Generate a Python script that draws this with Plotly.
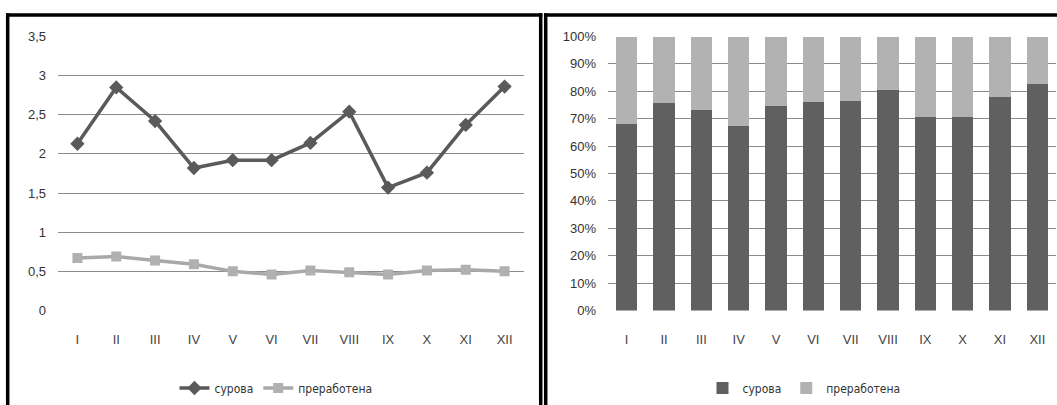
import plotly.graph_objects as go

months = ["I", "II", "III", "IV", "V", "VI", "VII", "VIII", "IX", "X", "XI", "XII"]
surova = [2.13, 2.85, 2.42, 1.82, 1.92, 1.92, 2.14, 2.54, 1.57, 1.76, 2.37, 2.86]
prerabotena = [0.67, 0.69, 0.64, 0.59, 0.50, 0.46, 0.51, 0.49, 0.46, 0.51, 0.52, 0.50]
surova_share = [68.0, 75.6, 73.1, 67.3, 74.5, 76.0, 76.4, 80.4, 70.5, 70.5, 77.8, 82.5]
prerabotena_share = [32.0, 24.4, 26.9, 32.7, 25.5, 24.0, 23.6, 19.6, 29.5, 29.5, 22.2, 17.5]
names = ["сурова", "преработена"]

W, H = 1057, 405
def px(x): return x / W
def py(y): return (H - y) / H

DARK_LINE = "#5a5a5a"
LIGHT_LINE = "#a9a9a9"
DARK_BAR = "#606060"
LIGHT_BAR = "#b2b2b2"
GRID = "#8a8a8a"
FONT = "Liberation Sans, Arial, sans-serif"
NARROW = "Liberation Sans Narrow, Arial Narrow, DejaVu Sans Condensed, sans-serif"

fig = go.Figure()
fig.add_trace(go.Scatter(x=months, y=surova, name=names[0], mode="lines+markers",
                         line=dict(color=DARK_LINE, width=3.5),
                         marker=dict(symbol="diamond", size=11, color=DARK_LINE),
                         xaxis="x", yaxis="y", legend="legend"))
fig.add_trace(go.Scatter(x=months, y=prerabotena, name=names[1], mode="lines+markers",
                         line=dict(color=LIGHT_LINE, width=3.5),
                         marker=dict(symbol="square", size=10, color="#b0b0b0"),
                         xaxis="x", yaxis="y", legend="legend"))
fig.add_trace(go.Bar(x=months, y=surova_share, name=names[0], marker=dict(color=DARK_BAR, line=dict(width=0)),
                     xaxis="x2", yaxis="y2", legend="legend2"))
fig.add_trace(go.Bar(x=months, y=prerabotena_share, name=names[1], marker=dict(color=LIGHT_BAR, line=dict(width=0)),
                     xaxis="x2", yaxis="y2", legend="legend2"))

ydom = [py(310.5), py(36.5)]
axis_common = dict(showline=False, zeroline=False, ticks="", fixedrange=True, automargin=False)

fig.update_layout(
    template="none",
    width=W, height=H, autosize=False,
    margin=dict(l=0, r=0, t=0, b=0, pad=0, autoexpand=False),
    paper_bgcolor="white", plot_bgcolor="white",
    separators=", ",
    barmode="stack", bargap=0.42,
    font=dict(family=FONT, size=13, color="#333333"),
    xaxis=dict(domain=[px(58), px(524)], anchor="y", type="category", range=[-0.5, 11.5],
               showgrid=False, tickfont=dict(size=13, color="#444444"), ticklabelstandoff=19, **axis_common),
    yaxis=dict(domain=ydom, anchor="x", range=[0, 3.5], dtick=0.5, showgrid=True,
               gridcolor=GRID, gridwidth=1, tickfont=dict(size=13, color="#333333"),
               ticklabelstandoff=11, **axis_common),
    xaxis2=dict(domain=[px(608), px(1056)], anchor="y2", type="category", range=[-0.5, 11.5],
                showgrid=False, tickfont=dict(size=13, color="#444444"), ticklabelstandoff=19, **axis_common),
    yaxis2=dict(domain=ydom, anchor="x2", range=[0, 100], dtick=10, ticksuffix="%", showgrid=True,
                gridcolor=GRID, gridwidth=1, tickfont=dict(size=13, color="#333333"),
                ticklabelstandoff=11, **axis_common),
    legend=dict(orientation="h", x=px(276), xanchor="center", y=py(388), yanchor="middle", traceorder="normal",
                font=dict(family=NARROW, size=12, color="#333333"), itemwidth=30, bgcolor="rgba(0,0,0,0)"),
    legend2=dict(orientation="h", x=px(804), xanchor="center", y=py(388), yanchor="middle", traceorder="normal",
                 font=dict(family=NARROW, size=12, color="#333333"), itemwidth=30, bgcolor="rgba(0,0,0,0)"),
    hovermode=False,
)

# panel borders
bw = 3.5
shapes = [
    dict(type="line", xref="paper", yref="paper", x0=px(7.7), x1=px(7.7), y0=py(13.3), y1=py(410), line=dict(color="black", width=bw)),
    dict(type="line", xref="paper", yref="paper", x0=px(6), x1=px(542.3), y0=py(15), y1=py(15), line=dict(color="black", width=bw)),
    dict(type="line", xref="paper", yref="paper", x0=px(540.7), x1=px(540.7), y0=py(13.3), y1=py(410), line=dict(color="black", width=bw)),
    dict(type="line", xref="paper", yref="paper", x0=px(545.7), x1=px(545.7), y0=py(13.3), y1=py(410), line=dict(color="black", width=bw)),
    dict(type="line", xref="paper", yref="paper", x0=px(544), x1=px(1060), y0=py(15), y1=py(15), line=dict(color="black", width=bw)),
]
fig.update_layout(shapes=shapes)

fig.write_html("out.html", config={"displayModeBar": False, "responsive": False},
               post_script="document.body.style.margin='0';document.body.style.overflow='hidden';")
